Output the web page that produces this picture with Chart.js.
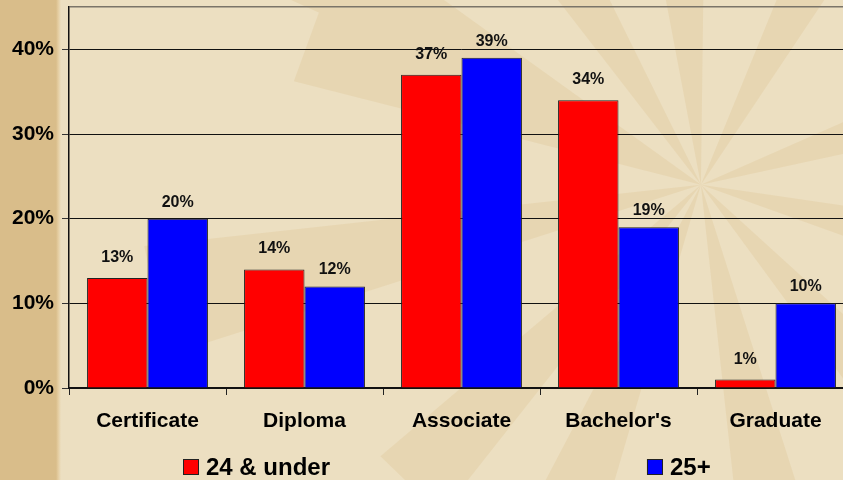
<!DOCTYPE html>
<html>
<head>
<meta charset="utf-8">
<script src="https://cdn.jsdelivr.net/npm/chart.js@4"></script>
<style>
  html, body { margin: 0; padding: 0; overflow: hidden; }
  body {
    width: 843px; height: 480px;
    background: linear-gradient(to right, #d9bd8a 0px, #d9bd8a 56px, #e4cc9f 58px, #ecdfc1 61px, #ecdfc1 100%);
  }
  #wrap { position: relative; width: 860px; height: 480px; }
</style>
</head>
<body>
<div id="wrap"><canvas id="edu-chart"></canvas></div>
<script>
// Degree type by age group (percent of students)
const categories = ['Certificate', 'Diploma', 'Associate', "Bachelor's", 'Graduate'];
const under24 = [13, 14, 37, 34, 1];
const over25 = [20, 12, 39, 19, 10];
const yTicks = [0, 10, 20, 30, 40, 45];
const seriesNames = ['24 & under', '25+'];
const yTop = 45;

// faint starburst behind the plot
const backdrop = {
    id: 'backdrop',
    beforeDraw(chart) {
        const ctx = chart.ctx;
        const cx = chart.width * 0.815, cy = chart.height * 0.385;
        const angles = [-150, -122, -95, -62, -18, 14, 48, 78, 112, 134, 168, 200];
        ctx.save();
        ctx.beginPath();
        ctx.rect(61, 0, chart.width, chart.height);
        ctx.clip();
        ctx.fillStyle = 'rgba(214, 180, 118, 0.2)';
        ctx.beginPath();
        angles.forEach((a, i) => {
            const r = (a * Math.PI) / 180;
            const len = i % 2 ? 420 : 560;
            const w = 0.1;
            ctx.moveTo(cx, cy);
            ctx.lineTo(cx + Math.cos(r - w) * len, cy + Math.sin(r - w) * len);
            ctx.lineTo(cx + Math.cos(r + w) * len, cy + Math.sin(r + w) * len);
            ctx.closePath();
        });
        ctx.fill('nonzero');
        ctx.restore();
    }
};

// value labels above bars and the legend
const decorations = {
    id: 'decorations',
    afterDatasetsDraw(chart) {
        const ctx = chart.ctx;
        ctx.save();
        ctx.font = 'bold 16px "Liberation Sans", Arial, sans-serif';
        ctx.fillStyle = '#111';
        ctx.textAlign = 'center';
        ctx.textBaseline = 'alphabetic';
        chart.data.datasets.forEach((ds, di) => {
            const gap = di === 0 ? 16 : 12;
            chart.getDatasetMeta(di).data.forEach((bar, i) => {
                ctx.fillText(ds.data[i] + '%', bar.x, bar.y - gap);
            });
        });

        // legend
        const legendX = [chart.width * 0.2128, chart.width * 0.7523];
        const boxTop = chart.height - 21;
        ctx.font = 'bold 24px "Liberation Sans", Arial, sans-serif';
        ctx.textAlign = 'left';
        chart.data.datasets.forEach((ds, di) => {
            const x = legendX[di];
            ctx.fillStyle = ds.backgroundColor;
            ctx.fillRect(x, boxTop, 16, 16);
            ctx.strokeStyle = '#222';
            ctx.lineWidth = 1;
            ctx.strokeRect(x + 0.5, boxTop + 0.5, 15, 15);
            ctx.fillStyle = '#000';
            ctx.fillText(ds.label, x + 23, boxTop + 16);
        });
        ctx.restore();
    }
};

new Chart(document.getElementById('edu-chart'), {
    type: 'bar',
    data: {
        labels: categories,
        datasets: [
            { label: seriesNames[0], data: under24, backgroundColor: '#ff0000', borderColor: '#222', borderWidth: 1 },
            { label: seriesNames[1], data: over25, backgroundColor: '#0000ff', borderColor: '#222', borderWidth: 1 }
        ]
    },
    options: {
        responsive: true,
        maintainAspectRatio: false,
        animation: false,
        layout: { padding: { top: 7, right: 6, left: 0, bottom: 0 } },
        datasets: { bar: { barPercentage: 1, categoryPercentage: 0.77 } },
        plugins: { legend: { display: false }, tooltip: { enabled: false } },
        scales: {
            x: {
                grid: { drawOnChartArea: false, drawTicks: true, tickLength: 7, color: '#222' },
                border: { color: '#111', width: 2 },
                ticks: {
                    color: '#000',
                    padding: 14,
                    font: { family: '"Liberation Sans", Arial, sans-serif', size: 21, weight: 'bold' }
                },
                afterFit(scale) { scale.height = 92; scale.paddingLeft = 0; scale.paddingRight = 0; }
            },
            y: {
                min: 0,
                max: yTop,
                afterBuildTicks(scale) { scale.ticks = yTicks.map(v => ({ value: v })); },
                grid: {
                    color: ctx => (ctx.tick && ctx.tick.value === yTop ? '#7a7468' : '#111'),
                    lineWidth: ctx => (ctx.tick && ctx.tick.value === yTop ? 1.5 : 1),
                    tickLength: 7,
                    tickColor: ctx => (ctx.tick && ctx.tick.value === yTop ? 'rgba(0,0,0,0)' : '#333')
                },
                border: { color: '#111', width: 1.5 },
                ticks: {
                    color: '#000',
                    padding: 8,
                    font: { family: '"Liberation Sans", Arial, sans-serif', size: 21, weight: 'bold' },
                    callback: v => (v === yTop ? '' : v + '%')
                },
                afterFit(scale) { scale.width = 69; scale.paddingTop = 0; scale.paddingBottom = 0; }
            }
        }
    },
    plugins: [backdrop, decorations]
});
</script>
</body>
</html>
